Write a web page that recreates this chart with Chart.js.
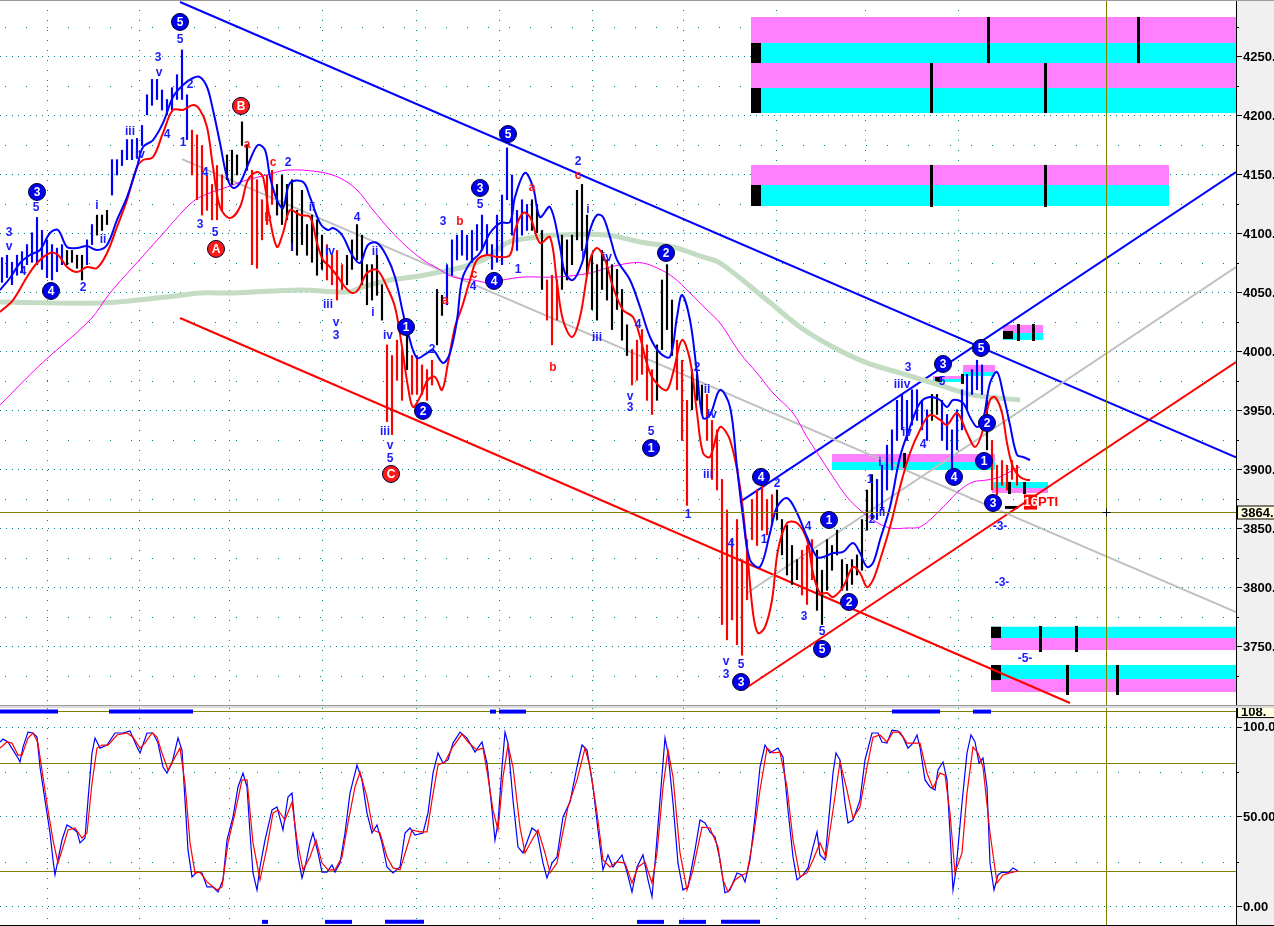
<!DOCTYPE html>
<html>
<head>
<meta charset="utf-8">
<script src="https://cdn.jsdelivr.net/npm/chart.js@4.4.1/dist/chart.umd.min.js"></script>
<style>
  html, body { margin: 0; padding: 0; background: #fff; overflow: hidden; }
  #wrap { position: relative; width: 1274px; height: 926px; }
  #priceChart { position: absolute; left: 0; top: 0; }
  #sep { position: absolute; left: 0; top: 705px; width: 1274px; height: 3px; background: #dcdcdc; border-top: 1px solid #9a9a9a; box-sizing: border-box; }
  #stochChart { position: absolute; left: 0; top: 708px; }
</style>
</head>
<body>
<div id="wrap">
  <canvas id="priceChart" width="1274" height="705"></canvas>
  <div id="sep"></div>
  <canvas id="stochChart" width="1274" height="218"></canvas>
</div>
<script>
/**
 * Elliott wave chart: price bars with bands, trend channels,
 * projection boxes and a stochastic panel below.
 * x values are in "bar units" (one unit = 5 px of the original plot).
 */

// ---- price bars ----
const barHigh = [
  4080, 4082, 4076, 4082, 4085, 4091, 4101, 4114, 4103, 4095,
  4091, 4088, 4091, 4086, 4086, 4082, 4082, 4095, 4108, 4116,
  4116, 4120, 4163, 4163, 4171, 4180, 4180, 4181, 4192, 4218,
  4231, 4231, 4222, 4214, 4224, 4235, 4256, 4218, 4188, 4184,
  4175, 4150, 4142, 4158, 4150, 4167, 4171, 4167, 4195, 4175,
  4154, 4146, 4129, 4150, 4154, 4142, 4150, 4142, 4146, 4120,
  4137, 4108, 4116, 4112, 4099, 4091, 4082, 4086, 4074, 4082,
  4095, 4108, 4099, 4074, 4074, 4082, 4057, 4006, 3997, 4010,
  4002, 4014, 3997, 3997, 3989, 3985, 3993, 4053, 4048, 4074,
  4095, 4099, 4103, 4099, 4103, 4108, 4116, 4108, 4091, 4116,
  4133, 4173, 4150, 4120, 4129, 4125, 4129, 4125, 4103, 4061,
  4065, 4061, 4099, 4095, 4099, 4137, 4142, 4116, 4082, 4074,
  4086, 4078, 4074, 4070, 4053, 4023, 4002, 4010, 4019, 4006,
  3985, 4006, 4061, 4074, 4044, 4010, 3993, 3959, 3985, 3981,
  3972, 3964, 3942, 3934, 3892, 3866, 3841, 3858, 3824, 3841,
  3875, 3883, 3887, 3875, 3879, 3883, 3858, 3853, 3836, 3824,
  3832, 3836, 3841, 3832, 3815, 3841, 3836, 3849, 3824, 3820,
  3824, 3828, 3858, 3883, 3896, 3892, 3904, 3921, 3934, 3959,
  3964, 3959, 3968, 3968, 3959, 3951, 3964, 3964, 3959, 3947,
  3934, 3951, 3968, 3981, 3985, 3993, 3989, 3959, 3925, 3904,
  3908, 3904, 3908, 3904
];
const barLow = [
  4059, 4063, 4057, 4065, 4068, 4074, 4076, 4074, 4070, 4063,
  4061, 4068, 4074, 4074, 4076, 4071, 4061, 4074, 4091, 4099,
  4103, 4108, 4133, 4150, 4158, 4163, 4163, 4164, 4175, 4201,
  4209, 4214, 4205, 4201, 4205, 4214, 4214, 4180, 4150, 4129,
  4116, 4120, 4112, 4112, 4120, 4146, 4142, 4150, 4175, 4154,
  4074, 4071, 4095, 4108, 4125, 4116, 4108, 4112, 4086, 4082,
  4091, 4082, 4076, 4065, 4070, 4061, 4057, 4044, 4053, 4057,
  4070, 4078, 4057, 4040, 4044, 4048, 4027, 3941, 3930, 3976,
  3959, 3985, 3964, 3964, 3964, 3959, 3972, 4006, 4031, 4040,
  4065, 4078, 4082, 4078, 4076, 4086, 4086, 4082, 4070, 4076,
  4074, 4129, 4099, 4086, 4099, 4103, 4103, 4101, 4053, 4027,
  4006, 4027, 4053, 4061, 4074, 4095, 4086, 4065, 4036, 4027,
  4053, 4044, 4019, 4036, 4010, 3997, 3972, 3976, 3981, 3959,
  3947, 3959, 4002, 4019, 3997, 3968, 3925, 3870, 3951, 3959,
  3947, 3925, 3892, 3883, 3769, 3756, 3773, 3752, 3743, 3790,
  3841, 3836, 3849, 3845, 3853, 3858, 3828, 3811, 3803, 3807,
  3794, 3786, 3807, 3781, 3769, 3798, 3815, 3828, 3798, 3798,
  3803, 3811, 3815, 3849, 3858, 3858, 3866, 3883, 3900, 3925,
  3934, 3925, 3938, 3942, 3934, 3925, 3942, 3947, 3925, 3917,
  3900, 3917, 3934, 3951, 3964, 3968, 3964, 3917, 3883, 3879,
  3887, 3883, 3892, 3887
];
// runs of bar colour: b = up (blue), r = down (red), k = neutral (black)
const barColorRuns = [
  ['b', 13], ['k', 4], ['b', 2], ['k', 3], ['b', 16], ['r', 7], ['k', 5], ['r', 5],
  ['k', 10], ['r', 4], ['k', 8], ['r', 4], ['k', 1], ['r', 5], ['k', 2], ['b', 17],
  ['k', 3], ['r', 3], ['k', 14], ['r', 5], ['k', 4], ['r', 3], ['k', 3], ['r', 14],
  ['k', 5], ['r', 3], ['k', 12], ['b', 11], ['k', 2], ['b', 9], ['k', 1], ['r', 6]
];

// ---- overlays [x, price] ----
const upperBand = [[0,4052.5],[2,4062.7],[4,4075.4],[6,4082.2],[8,4086.4],[10,4100.8],[11.6,4103.4],[13.4,4089],[15.4,4088.1],[17.4,4089.8],[19.4,4086.4],[21.4,4090.7],[23.4,4111.9],[25.4,4131.3],[27.4,4156.8],[28.6,4173.7],[30.6,4179.6],[32.6,4194.1],[34.6,4216.1],[36.6,4226.3],[38.6,4232.2],[40,4233],[41.4,4224.6],[42.6,4205.1],[44,4177.1],[45.4,4148.3],[46.6,4139],[48,4143.2],[50,4162.7],[51.6,4175.4],[53,4171.2],[54,4148.3],[55.4,4128.8],[56.6,4122],[58,4143.2],[60.6,4144.1],[62,4131.3],[64,4109.3],[65.6,4103.4],[66.6,4105.1],[68.4,4099.1],[70.4,4082.2],[72,4075.4],[73.6,4090.7],[75.4,4092.4],[77.4,4080.5],[79,4063.5],[80.6,4033],[81.6,4016.1],[83.4,3994.9],[85.4,3999.1],[86.6,4001.7],[88.6,3990.7],[90,3999.1],[91.4,4027.1],[92.4,4061],[94,4075.4],[96,4083.9],[98,4100.8],[100,4109.3],[102,4110.2],[103,4131.3],[105,4151.7],[106.6,4139.8],[108,4114.4],[110,4122.9],[112,4089],[113,4066.9],[114.6,4061],[116.4,4075.4],[118,4103.4],[119.4,4116.1],[120.6,4114.4],[122,4097.4],[123.4,4078],[126,4061],[128,4038.1],[130,4012.7],[132,3999.1],[134,3995.8],[135.4,4029.6],[136.4,4048.3],[138,4027.1],[139.4,3982.2],[140.6,3944],[142,3946.6],[144,3967.8],[146,3953.4],[147.4,3902.5],[148.6,3860.1],[150,3823.7],[152,3817.8],[154,3846.6],[155.4,3868.6],[157.4,3876.2],[159.4,3863.5],[161.4,3843.2],[163.4,3826.2],[164.6,3826.2],[166.6,3829.6],[168.6,3830.5],[170.6,3838.1],[172,3829.6],[173.4,3817.8],[174.6,3821.2],[176,3840.7],[178,3868.6],[180,3911],[182,3936.4],[184,3956.8],[186,3961.8],[188,3959.3],[189.4,3953.4],[190.6,3959.3],[192.6,3956.8],[194,3944.9],[195.4,3936.4],[196.6,3942.4],[198,3973.7],[199.4,3983],[200.6,3965.2],[202,3938.1],[203.4,3912.7],[204.6,3911],[206,3908.4]];
const lowerBand = [[0,4033.9],[2.6,4044],[5.4,4063.5],[7.4,4075.4],[10,4083.9],[11.6,4082.2],[13.4,4072],[15.4,4067.8],[17.4,4072],[19.4,4071.2],[21.4,4083.9],[23.4,4105.9],[25.4,4128.8],[27.4,4156.8],[28.6,4162.7],[30.6,4165.2],[32.6,4185.6],[34.6,4205.1],[36.6,4205.1],[38.6,4209.3],[40,4205.1],[41.4,4190.7],[42.6,4156.8],[44,4122.9],[46,4113.5],[48,4122.9],[49.6,4145.8],[51.4,4152.5],[52.6,4148.3],[54,4111.9],[55.4,4089],[56.6,4100.8],[58,4120.3],[60,4116.1],[62,4114.4],[63.4,4092.4],[64.6,4077.9],[66,4072],[67.6,4063.5],[69,4055.1],[70.4,4050],[71.6,4052.5],[73.4,4066.9],[75.4,4069.5],[77.4,4055.1],[79,4038.1],[80.4,4004.2],[81.6,3970.3],[82.6,3953.4],[84,3961.8],[85.6,3976.3],[87,3978.8],[88.4,3967.8],[89.6,3990.7],[91,4021.2],[92.4,4038.1],[94,4061],[95.4,4078],[97.4,4082.2],[99.4,4080.5],[102,4082.2],[103,4103.4],[104.6,4117.8],[106,4114.4],[108,4092.4],[110,4097.4],[111.4,4058.5],[112.6,4027.1],[114.4,4012.7],[116,4029.6],[118,4078],[119.4,4088.1],[121,4078],[122.6,4055.1],[124.6,4035.6],[126.6,4029.6],[128,4012.7],[130,3982.2],[132,3970.3],[133.4,3967.8],[134.6,3982.2],[136.4,4010.2],[138,3993.2],[139.4,3948.3],[140.6,3914.4],[142,3911],[144,3936.4],[146,3925.4],[148,3885.6],[149.4,3832.2],[150.6,3778.8],[151.6,3761.8],[153,3766.9],[154.4,3789.8],[155.6,3832.2],[157.4,3855],[159.4,3855],[161.4,3840.7],[162.6,3812.7],[164,3795.7],[165.4,3795.7],[166.6,3792.3],[168.6,3800.8],[170.6,3817.8],[172,3812.7],[173.4,3800.8],[174.6,3806.8],[176,3823.7],[178,3851.7],[180,3885.6],[182,3914.4],[184,3933.9],[186,3946.6],[188,3942.4],[189.4,3938.1],[191.4,3948.3],[193.4,3931.3],[195,3919.5],[196.4,3931.3],[198,3959.3],[199,3961.8],[200.4,3948.3],[201.4,3922.9],[202.6,3902.5],[204,3894.1],[205.4,3891.5],[206,3891.5]];
const slowAverage = [[0,3955],[8,3989],[18,4027.1],[22,4050],[26.6,4072],[32,4097.4],[37.4,4122.9],[40,4131.3],[45.4,4139.8],[49.4,4145.8],[53.4,4150],[57.4,4154.2],[64,4152.5],[68,4147.4],[71.4,4137.3],[74.6,4120.3],[78,4103.4],[81.4,4089],[84.6,4078],[87.4,4071.2],[90.6,4063.5],[94.6,4061],[98,4058.5],[100.6,4061],[104.6,4063.5],[111.4,4063.5],[118,4066.9],[122,4072],[126,4075.4],[128.6,4075.4],[131.4,4071.2],[134.6,4063.5],[138,4050],[141.4,4035.6],[144,4024.6],[148,3999.1],[151.4,3982.2],[154.6,3965.2],[158.6,3948.3],[161.4,3927.9],[164,3911],[166.6,3894.1],[169.4,3877.1],[172,3866.1],[174.6,3857.6],[178,3850.8],[181.4,3850.8],[184,3851.7],[186.6,3860.1],[189.4,3872],[192,3883],[194.6,3889.8],[197.4,3891.5],[200,3894.1],[202.6,3900],[204,3902.5]];
const longAverage = [[0,4042.4],[20,4041.5],[33.4,4046.6],[40,4050],[46.6,4050],[60,4052.5],[69.4,4050.8],[72.6,4055.1],[78,4061],[82.6,4063.5],[88,4067.8],[92.6,4072],[97.4,4079.6],[101.4,4092.4],[106,4096.6],[111.4,4099.1],[121.4,4099.1],[128,4093.2],[134.6,4089],[140.6,4080.5],[144,4075.4],[153.4,4044],[160,4021.2],[166.6,4004.2],[173.4,3990.7],[180,3982.2],[186.6,3973.7],[194.6,3963.5],[204,3959.3]];

// ---- trend channels ----
const trendLines = [
  { color: '#c0c0c0', pts: [[36.4, 4163.5], [247.2, 3779.6]] },
  { color: '#c0c0c0', pts: [[149.4, 3795.7], [247.2, 4072.0]] },
  { color: '#0000ff', pts: [[36, 4296.6], [247.2, 3910.6]] },
  { color: '#ff0000', pts: [[36, 4028.8], [214, 3702.5]] },
  { color: '#0000ff', pts: [[148, 3872.9], [247.2, 4152.5]] },
  { color: '#ff0000', pts: [[148.6, 3713.5], [247.2, 3991.5]] }
];

// ---- projection boxes [x1, x2, priceTop, priceBottom, p=pink/c=cyan] ----
const projBoxes = [
  [150.2, 247.2, 4283.9, 4261.9, 'p'], [150.2, 247.2, 4261.9, 4244.9, 'c'],
  [150.2, 247.2, 4244.9, 4223.7, 'p'], [150.2, 247.2, 4223.7, 4202.5, 'c'],
  [150.2, 233.8, 4158.5, 4141.5, 'p'], [150.2, 233.8, 4141.5, 4123.7, 'c'],
  [200.6, 208.6, 4022.9, 4016.1, 'p'], [200.6, 208.6, 4016.1, 4010.2, 'c'],
  [166.4, 199.0, 3913.5, 3906.7, 'p'], [166.4, 199.0, 3906.7, 3900.0, 'c'],
  [192.6, 199.0, 3989.0, 3983.0, 'p'], [192.6, 199.0, 3983.0, 3979.6, 'c'],
  [186.6, 192.6, 3979.6, 3977.1, 'p'], [186.6, 192.6, 3977.1, 3974.6, 'c'],
  [198.4, 209.6, 3889.8, 3884.7, 'c'], [198.4, 209.6, 3884.7, 3880.5, 'p'],
  [198.2, 247.2, 3767.1, 3757.6, 'c'], [198.2, 247.2, 3757.6, 3747.4, 'p'],
  [198.2, 247.2, 3734.7, 3722.8, 'c'], [198.2, 247.2, 3722.8, 3711.8, 'p']
];
const projBlocks = [
  [150.2, 152.2, 4261.9, 4244.9], [150.2, 152.2, 4223.7, 4202.5], [150.2, 152.2, 4141.5, 4123.7],
  [200.6, 202.6, 4017.8, 4011.0], [187.0, 188.4, 3978.8, 3974.6], [201.0, 203.6, 3869.5, 3867.0],
  [198.2, 200.2, 3767.1, 3757.6], [198.2, 200.2, 3734.7, 3721.9]
];
const projTicks = [
  [197.6, 4283.9, 4244.9], [227.6, 4283.9, 4244.9], [186.2, 4244.9, 4202.5], [209.0, 4244.9, 4202.5],
  [186.2, 4158.5, 4122.9], [209.0, 4158.5, 4122.9], [203.6, 4023.7, 4009.3], [206.6, 4023.7, 4009.3],
  [180.8, 3914.4, 3901.7], [192.4, 3981.4, 3973.0], [201.8, 3889.8, 3879.6], [204.8, 3889.8, 3879.6],
  [208.0, 3767.8, 3745.7], [215.2, 3767.8, 3745.7], [213.4, 3734.7, 3709.3], [223.4, 3734.7, 3709.3]
];

// ---- wave labels [x, price, text] ----
const waveText = [
  [1.8,4100.8,'3'],[1.8,4089,'v'],[4.6,4067.8,'4'],[7.2,4122,'5'],[16.6,4054.2,'2'],[19.4,4123.7,'i'],[20.6,4094.9,'ii'],
  [26,4186.4,'iii'],[28,4167,'iv'],[31.6,4249.1,'3'],[31.8,4236.4,'v'],[33.4,4183.9,'4'],[36,4264.4,'5'],[38,4226.3,'2'],
  [36.6,4177.1,'1'],[40,4107.6,'3'],[41,4151.7,'4'],[43,4100.8,'5'],[57.6,4160.2,'2'],[58.4,4088.1,'i'],[62.4,4122,'ii'],
  [66,4084.7,'iv'],[71.4,4113.5,'4'],[65.6,4039.8,'iii'],[67.2,4024.6,'v'],[67.2,4013.5,'3'],[75,4084.7,'ii'],[74.6,4033,'i'],
  [77.6,4013.5,'iv'],[77,3932.2,'iii'],[78,3920.3,'v'],[78,3909.3,'5'],[86.4,4001.7,'2'],[88.6,4110.2,'3'],[96,4124.6,'5'],
  [94.6,4055.1,'4'],[103.6,4069.5,'1'],[115.6,4161,'2'],[117.6,4120.3,'i'],[116.6,4082.2,'i'],[119.4,4011.8,'iii'],
  [121.4,4079.6,'iv'],[127.6,4022.9,'4'],[126,3961.8,'v'],[126,3952.5,'3'],[130.2,3932.2,'5'],[139.4,3986.4,'2'],
  [141.4,3967.8,'ii'],[142.4,3946.6,'iv'],[141.6,3895.8,'iii'],[137.6,3861.8,'1'],[146.2,3837.3,'4'],[145.2,3737.3,'v'],
  [145.2,3726.2,'3'],[148.2,3734.7,'5'],[155.4,3888.1,'2'],[152.8,3840.7,'1'],[161.6,3851.7,'4'],[160.8,3775.4,'3'],
  [164.4,3762.7,'5'],[174,3891.5,'1'],[174.4,3857.6,'2'],[176,3905.9,'i'],[176.4,3863.5,'ii'],[181.4,3931.3,'iv'],
  [180.4,3972,'iiiv'],[181.6,3986.4,'3'],[184.6,3921.2,'4'],[188.4,3974.6,'5'],
  [200,3851.7,'-3-'],[200.4,3804.2,'-3-'],[205,3739.8,'-5-']
];
const waveTextRed = [
  [49.4,4175.4,'a'],[54.6,4160.2,'c'],[53.6,4113.5,'b'],[89,4043.2,'a'],[92,4110.2,'b'],[94.8,4065.2,'c'],
  [106.4,4139,'a'],[110.6,3986.4,'b'],[115.6,4149.1,'c']
];
const waveCircle = [
  [7.4,4135.6,'3'],[10.2,4051.7,'4'],[36,4279.7,'5'],[81.2,4021.2,'1'],[84.6,3950,'2'],[96,4139,'3'],[98.8,4060.2,'4'],
  [101.6,4184.7,'5'],[130.2,3918.6,'1'],[133.2,4083.9,'2'],[148.2,3720.3,'3'],[152.2,3894.1,'4'],[164.4,3748.3,'5'],
  [165.8,3857.6,'1'],[169.8,3788.1,'2'],[188.6,3989.8,'3'],[190.8,3894.1,'4'],[196.2,4003.4,'5'],[197.4,3939.8,'2'],
  [196.8,3907.6,'1'],[198.6,3872,'3']
];
const waveCircleRed = [[43.2,4087.3,'A'],[48.2,4208.5,'B'],[78.2,3896.6,'C']];

// ---- axes ----
const priceTicks = [3750, 3800, 3850, 3900, 3950, 4000, 4050, 4100, 4150, 4200, 4250];
const priceMinor = [3725, 3775, 3825, 3875, 3925, 3975, 4025, 4075, 4125, 4175, 4225, 4275];
const timeGrid = [9.4, 27.8, 45.8, 64.6, 83.2, 99.8, 118.4, 136.6, 155.2, 173.2, 191.6];
const cursorX = 221.1;
const cursorPrice = 3864.6;
const cursorLabel = '3864.';

// ---- stochastic [x, value] ----
const stochK = [[0,91.7],[0.6,93.3],[1.6,91.7],[2.6,87.2],[3.6,82.8],[4,80.6],[4.6,88.9],[5.6,97.2],[6.6,96.7],[7.4,94.4],[8,77.8],[9,59.4],[10,41.1],[10.6,26.1],[11,17.8],[11.6,26.1],[12.4,37.2],[13.4,45.6],[14.4,43.9],[15.4,41.7],[16,35.6],[17,38.3],[17.6,59.4],[18.4,85.6],[19,93.9],[20,88.3],[21.4,90],[23,96.7],[24.6,96.7],[26,97.8],[27.4,88.9],[28,85.6],[29.4,96.7],[30.6,96.7],[31.6,91.1],[32.6,77.8],[33.4,74.4],[34.4,80],[35.6,93.9],[36.4,87.2],[37,59.4],[37.6,31.7],[38.4,16.7],[39.4,19.4],[40.4,18.9],[41.4,11.1],[42.6,11.1],[43.6,8.3],[44.6,15],[45.4,37.2],[46.6,50],[47.6,66.7],[48.6,74.4],[49.4,66.7],[50,41.1],[50.6,18.9],[51.4,9.4],[52,22.2],[53,37.2],[54.4,53.9],[55.4,55.6],[56.6,42.8],[57.6,61.1],[58.4,63.3],[59,44.4],[59.6,27.8],[60.4,16.1],[61,22.2],[62,35.6],[62.6,41.1],[63.6,30],[64.4,19.4],[65.4,19.4],[66.4,23.3],[67,19.4],[68,24.4],[69,41.1],[70,63.3],[71.4,78.9],[72.4,70.6],[73.4,52.2],[74.4,41.1],[75.4,45.6],[76.4,35.6],[77.4,22.2],[78.6,18.9],[80,22.2],[81,41.1],[82,43.9],[83,40],[84.6,41.1],[85.6,52.2],[86.6,74.4],[87.6,85.6],[88.6,80],[89.6,81.7],[90.6,91.1],[92,97.2],[93.4,93.9],[95,86.1],[96.4,91.7],[97.4,80],[98.4,53.9],[99,37.2],[99.6,46.7],[100.4,77.8],[101,97.2],[101.6,91.1],[102.6,59.4],[103.6,33.3],[104.6,30],[106.4,43.9],[107.4,41.7],[108.6,24.4],[109.4,16.1],[110.4,24.4],[111.4,27.8],[112.6,50],[114,58.3],[115.4,77.8],[116.4,90],[117.4,87.2],[118.6,66.7],[119.6,42.8],[120.6,20.6],[121.6,28.9],[122.6,22.2],[124.4,28.9],[125.4,19.4],[126.4,8.3],[127.4,22.2],[128.6,28.9],[129.6,15],[130.4,5.6],[131,24.4],[132,59.4],[133,93.9],[133.6,85.6],[134.6,57.8],[135.6,24.4],[136.6,9.4],[137.6,11.1],[139,31.7],[140,48.3],[141,46.7],[142,41.7],[143,38.9],[144,26.1],[145,7.8],[146,9.4],[147.4,18.9],[148.4,17.8],[149,13.9],[150,26.1],[151,50],[152,77.8],[153,90],[154,85.6],[155.6,88.3],[156.6,83.3],[157.6,53.9],[158.6,27.8],[159.4,15],[160.6,17.8],[161.6,21.7],[162.6,33.3],[163.4,41.7],[164,28.9],[165,26.1],[165.6,44.4],[166.6,74.4],[167.2,85.6],[168,81.7],[169,57.8],[169.6,46.7],[170.6,48.3],[172,59.4],[173,81.7],[174.4,96.7],[175.6,96.7],[176.4,91.7],[177.4,91.1],[178.4,98.3],[179.6,97.8],[180.6,94.4],[181.6,88.3],[182.6,91.1],[183.4,95.6],[184,88.9],[185,70.6],[186,66.7],[187,65],[187.6,76.1],[188.6,80.6],[189.4,70.6],[190,41.1],[190.6,9.4],[191.2,20.6],[192.4,57.8],[193.4,85.6],[194.2,95.6],[195,91.7],[195.8,80],[196.6,82.8],[197.4,66.7],[198,24.4],[198.8,9.4],[199.6,17.8],[200.4,19.4],[201.6,18.9],[202.6,21.7],[203.6,20]];
const stochD = [[0,88.3],[1.4,91.7],[2.4,91.1],[3.6,84.4],[4.4,84.4],[5.6,93.9],[6.6,96.7],[7.6,91.1],[8.6,72.2],[9.6,53.9],[10.6,37.2],[11.6,24.4],[12.6,33.3],[13.6,42.8],[15,43.9],[16.4,38.3],[17.4,41.1],[18.4,68.9],[19.4,88.3],[20.4,90],[21.6,90],[23.4,95.6],[25.4,96.7],[26.6,94.4],[28,88.3],[29,91.1],[30.4,96.7],[31.4,94.4],[32.4,85.6],[33.6,76.1],[35,83.3],[36,88.3],[37,68.9],[38,35.6],[39,18.9],[40,19.4],[41.4,13.9],[43.4,9.4],[44.4,11.1],[45.6,35.6],[47,52.2],[48.4,70.6],[49.4,70.6],[50.6,35.6],[52,15],[53.4,33.3],[54.6,52.2],[55.6,53.9],[57,48.3],[58.4,58.3],[59.4,37.2],[60.6,20.6],[62,27.8],[63.2,37.2],[64.4,24.4],[65.6,20.6],[67,20.6],[68.4,27.8],[69.6,46.7],[71,66.7],[72,75],[73.4,61.1],[74.6,42.8],[76,41.1],[77.4,27.8],[78.6,21.7],[80,20.6],[81.4,33.3],[82.4,42.8],[84,41.7],[85.4,41.7],[86.4,59.4],[87.6,78.9],[89,80.6],[90.4,88.3],[92.4,96.1],[93.6,91.7],[95.4,87.2],[96.6,88.3],[97.6,72.2],[98.6,53.9],[99.6,42.8],[100.6,72.2],[101.6,90],[102.6,77.8],[104,44.4],[105,30],[106.4,37.2],[107.6,42.8],[109,30],[110,18.9],[111.4,24.4],[112.4,38.9],[113.6,55.6],[115.4,70.6],[117,88.3],[118,77.8],[119.4,52.2],[120.6,26.1],[122,22.2],[123.4,25],[125,24.4],[126.4,13.3],[127.6,22.2],[129,25],[130.4,13.3],[131.4,30],[132.6,66.7],[133.6,87.2],[134.6,72.2],[136,30],[137.4,9.4],[138.6,20.6],[140.4,44.4],[142,43.9],[142.4,41.1],[143.6,33.3],[144.6,15],[145.6,8.3],[147,15],[148.4,17.8],[149.4,18.9],[150.6,37.2],[152,65],[153.4,88.3],[154.6,85.6],[156,86.1],[157.4,66.7],[158.6,37.2],[160,16.7],[161.4,18.9],[162.6,26.1],[164,35.6],[165.2,27.8],[166.4,50],[168,80.6],[169.4,65],[170.6,49.4],[172,55.6],[173.4,77.8],[174.6,94.4],[176,95.6],[177.4,91.7],[178.6,97.2],[180,97.2],[181.4,91.1],[183,91.1],[184,91.1],[185.4,74.4],[186.6,66.1],[188,74.4],[189,73.3],[190,52.2],[191,18.9],[192.4,30],[193.4,63.3],[194.6,88.9],[195.6,85.6],[196.6,77.8],[198,41.1],[199.4,13.3],[200.6,17.8],[202,18.9],[203.6,20]];
const stochTicks = [0, 50, 100];
const stochMinor = [25, 75];
const stochLevels = [20, 80, 108.9];
const stochTopLabel = '108.';
const signalTop = [[0, 11.6], [21.8, 38.6], [98, 99.2], [99.8, 105.2], [178.4, 188], [194.6, 198.2]];
const signalBottom = [[52.4, 53.6], [65, 70.4], [77, 84.8], [127.4, 132.8], [135.8, 141.2], [144.2, 152]];
const signalTopLevel = 108.6;
const signalBottomLevel = -8.3;

// ---------------------------------------------------------------
const FONT = '"Liberation Sans", Arial, sans-serif';
const X_MAX = 247.2;
const TEAL = '#008080';
const OLIVE = '#808000';

Chart.defaults.font.family = FONT;
Chart.defaults.animation = false;

const toXY = pts => pts.map(([x, y]) => ({ x, y }));

const barColors = [];
barColorRuns.forEach(([c, n]) => {
  for (let i = 0; i < n; i++) barColors.push(c === 'b' ? '#0000ff' : c === 'r' ? '#ff0000' : '#000000');
});
const bars = barHigh.map((h, i) => ({ x: i + 0.4, y: [barLow[i], h] }));

const lineSet = (pts, color, width, order, tension = 0) => ({
  type: 'line', data: toXY(pts), borderColor: color, borderWidth: width,
  pointRadius: 0, tension, fill: false, order,
});

const xScale = () => ({
  type: 'linear', min: 0, max: X_MAX, bounds: 'data', offset: false,
  ticks: { display: false },
  grid: { color: TEAL, lineWidth: 1, drawTicks: false, offset: false },
  border: { display: false, dash: [1, 9] },
  afterBuildTicks: s => { s.ticks = timeGrid.map(v => ({ value: v })); },
  afterFit: s => { s.height = 0; s.paddingLeft = 0; s.paddingRight = 0; },
});

const yScale = (min, max, ticks, fmt) => ({
  position: 'right', min, max, bounds: 'data',
  ticks: { color: '#000', font: { size: 13, weight: 'bold' }, padding: 1, callback: fmt },
  grid: { color: TEAL, lineWidth: 1, drawTicks: true, tickLength: 6, tickColor: '#000', tickWidth: 1, tickBorderDash: [] },
  border: { display: true, color: '#000', width: 1, dash: [1, 5] },
  afterBuildTicks: s => { s.ticks = ticks.map(v => ({ value: v })); },
  afterFit: s => { s.width = 38; s.paddingTop = 0; s.paddingBottom = 0; },
});

const paintAxisBackground = chart => {
  const { ctx, chartArea: a, width, height } = chart;
  ctx.save();
  ctx.fillStyle = '#ffffff';
  ctx.fillRect(0, 0, width, height);
  ctx.fillStyle = '#f0f0f0';
  ctx.fillRect(a.right, 0, width - a.right, height);
  ctx.restore();
};

const minorDots = (chart, levels) => {
  const { ctx, chartArea: a, scales: { y } } = chart;
  ctx.fillStyle = TEAL;
  levels.forEach(v => {
    const yy = Math.round(y.getPixelForValue(v));
    for (let xx = 5; xx < a.right; xx += 21) ctx.fillRect(xx, yy, 1, 1);
    ctx.fillStyle = '#000';
    ctx.fillRect(a.right, yy, 3, 1);
    ctx.fillStyle = TEAL;
  });
};

const valueBox = (chart, py, text) => {
  const { ctx, chartArea: a, width } = chart;
  ctx.fillStyle = '#ffffe1';
  ctx.fillRect(a.right + 1, py - 7, width - a.right - 1, 14);
  ctx.strokeStyle = '#000';
  ctx.lineWidth = 1;
  ctx.strokeRect(a.right + 1.5, py - 6.5, width - a.right, 13);
  ctx.fillStyle = '#000';
  ctx.font = 'bold 13px ' + FONT;
  ctx.textAlign = 'left';
  ctx.textBaseline = 'middle';
  ctx.fillText(text, a.right + 5, py + 1);
};

const priceDecor = {
  id: 'priceDecor',
  beforeDraw: paintAxisBackground,
  beforeDatasetsDraw(chart) {
    const { ctx, scales: { x, y } } = chart;
    ctx.save();
    minorDots(chart, priceMinor);
    projBoxes.forEach(([x1, x2, t, b, c]) => {
      const l = x.getPixelForValue(x1), r = x.getPixelForValue(x2);
      const tt = y.getPixelForValue(t), bb = y.getPixelForValue(b);
      ctx.fillStyle = c === 'p' ? '#ff80ff' : '#00ffff';
      ctx.fillRect(l, tt, r - l, bb - tt);
    });
    ctx.fillStyle = '#000';
    projBlocks.forEach(([x1, x2, t, b]) => {
      const l = x.getPixelForValue(x1), r = x.getPixelForValue(x2);
      const tt = y.getPixelForValue(t), bb = y.getPixelForValue(b);
      ctx.fillRect(l, tt, r - l, bb - tt);
    });
    projTicks.forEach(([xv, t, b]) => {
      const xx = Math.round(x.getPixelForValue(xv));
      const tt = y.getPixelForValue(t), bb = y.getPixelForValue(b);
      ctx.fillRect(xx - 1, tt, 3, bb - tt);
    });
    ctx.restore();
  },
  afterDatasetsDraw(chart) {
    const { ctx, chartArea: a, width, scales: { x, y } } = chart;
    ctx.save();
    // cursor cross
    const cx = Math.round(x.getPixelForValue(cursorX)) + 0.5;
    const cy = Math.round(y.getPixelForValue(cursorPrice)) + 0.5;
    ctx.strokeStyle = OLIVE;
    ctx.lineWidth = 1;
    ctx.beginPath();
    ctx.moveTo(a.left, cy); ctx.lineTo(a.right, cy);
    ctx.moveTo(cx, a.top); ctx.lineTo(cx, a.bottom);
    ctx.stroke();
    ctx.strokeStyle = '#000';
    ctx.beginPath(); ctx.moveTo(cx - 4, cy); ctx.lineTo(cx + 4, cy); ctx.moveTo(cx, cy - 4); ctx.lineTo(cx, cy + 4); ctx.stroke();

    // wave labels
    ctx.font = 'bold 12px ' + FONT;
    ctx.textAlign = 'center';
    ctx.textBaseline = 'middle';
    ctx.fillStyle = '#1a1aff';
    waveText.forEach(([xv, p, s]) => ctx.fillText(s, x.getPixelForValue(xv), y.getPixelForValue(p)));
    ctx.fillStyle = '#ff1010';
    waveTextRed.forEach(([xv, p, s]) => ctx.fillText(s, x.getPixelForValue(xv), y.getPixelForValue(p)));
    const circle = (xv, p, s, fill) => {
      const px = x.getPixelForValue(xv), py = y.getPixelForValue(p);
      ctx.beginPath();
      ctx.arc(px, py, 8.5, 0, Math.PI * 2);
      ctx.fillStyle = fill; ctx.fill();
      ctx.strokeStyle = '#000033'; ctx.lineWidth = 1; ctx.stroke();
      ctx.fillStyle = '#ffffff';
      ctx.fillText(s, px, py + 1);
    };
    waveCircle.forEach(([xv, p, s]) => circle(xv, p, s, '#0000ee'));
    waveCircleRed.forEach(([xv, p, s]) => circle(xv, p, s, '#ff1a1a'));

    // target tag
    const tx = x.getPixelForValue(204.8), ty = y.getPixelForValue(3873.2);
    ctx.fillStyle = '#ff0000';
    ctx.fillRect(tx, ty - 7, 13, 15);
    ctx.font = 'bold 13px ' + FONT;
    ctx.textAlign = 'left';
    ctx.fillStyle = '#ffffff';
    ctx.fillText('16', tx - 0.5, ty + 1);
    ctx.fillStyle = '#ff0000';
    ctx.fillText('PTI', tx + 14, ty + 1);

    valueBox(chart, cy, cursorLabel);
    ctx.fillStyle = '#9a9a9a';
    ctx.fillRect(0, 0, width, 1);
    ctx.restore();
  }
};

const stochDecor = {
  id: 'stochDecor',
  beforeDraw: paintAxisBackground,
  beforeDatasetsDraw(chart) {
    const { ctx, chartArea: a, scales: { y } } = chart;
    ctx.save();
    minorDots(chart, stochMinor);
    ctx.strokeStyle = OLIVE;
    ctx.lineWidth = 1;
    ctx.beginPath();
    stochLevels.forEach(v => {
      const yy = Math.round(y.getPixelForValue(v)) + 0.5;
      ctx.moveTo(a.left, yy); ctx.lineTo(a.right, yy);
    });
    ctx.stroke();
    ctx.restore();
  },
  afterDatasetsDraw(chart) {
    const { ctx, chartArea: a, scales: { x, y } } = chart;
    ctx.save();
    const cx = Math.round(x.getPixelForValue(cursorX)) + 0.5;
    ctx.strokeStyle = OLIVE;
    ctx.lineWidth = 1;
    ctx.beginPath(); ctx.moveTo(cx, a.top); ctx.lineTo(cx, a.bottom); ctx.stroke();
    valueBox(chart, y.getPixelForValue(stochLevels[2]), stochTopLabel);
    ctx.fillStyle = '#000';
    ctx.fillRect(0, a.bottom - 1, chart.width, 1);
    ctx.restore();
  }
};

new Chart(document.getElementById('priceChart'), {
  type: 'bar',
  data: {
    datasets: [
      lineSet(upperBand, '#0000ff', 2, 1, 0.35),
      lineSet(lowerBand, '#ff0000', 2, 1, 0.35),
      { type: 'bar', data: bars, backgroundColor: barColors, barThickness: 1.5, grouped: false, order: 2 },
      lineSet(slowAverage, '#ff00ff', 1, 3, 0.35),
      lineSet(longAverage, '#c3dcc3', 5, 4, 0.35),
      ...trendLines.map(t => lineSet(t.pts, t.color, 2, 5)),
    ],
  },
  options: {
    responsive: false, devicePixelRatio: 1, animation: false, events: [],
    layout: { padding: 0 },
    plugins: { legend: { display: false }, tooltip: { enabled: false } },
    scales: {
      x: xScale(),
      y: yScale(3700.8, 4298.3, priceTicks, v => v + '.'),
    },
  },
  plugins: [priceDecor],
});

const signalSets = (segs, level) => segs.map(([a, b]) => ({
  type: 'line', data: [{ x: a, y: level }, { x: b, y: level }],
  borderColor: '#0000ff', borderWidth: 4, pointRadius: 0, order: 0, borderCapStyle: 'butt',
}));

new Chart(document.getElementById('stochChart'), {
  type: 'line',
  data: {
    datasets: [
      ...signalSets(signalTop, signalTopLevel),
      ...signalSets(signalBottom, signalBottomLevel),
      lineSet(stochD, '#ff0000', 1.2, 2),
      lineSet(stochK, '#0000ff', 1.2, 3),
    ],
  },
  options: {
    responsive: false, devicePixelRatio: 1, animation: false, events: [],
    layout: { padding: 0 },
    plugins: { legend: { display: false }, tooltip: { enabled: false } },
    scales: {
      x: xScale(),
      y: yScale(-10.6, 110.6, stochTicks, v => v.toFixed(2)),
    },
  },
  plugins: [stochDecor],
});
</script>
</body>
</html>
